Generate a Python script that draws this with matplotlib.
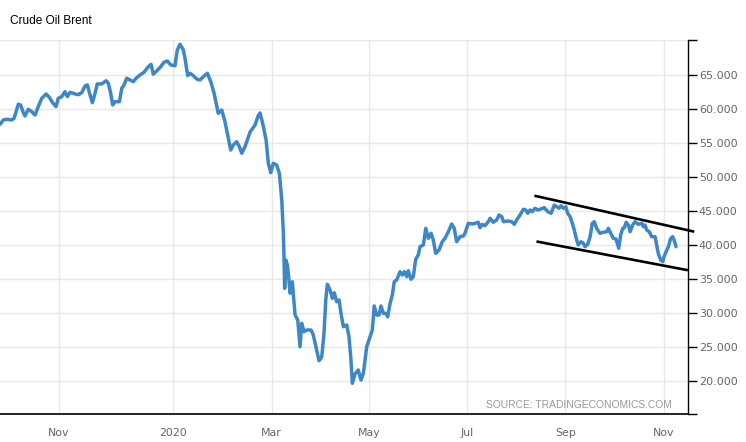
import matplotlib
matplotlib.use("Agg")
import matplotlib.pyplot as plt

title = "Crude Oil Brent"
source = "SOURCE: TRADINGECONOMICS.COM"

# days since start of the chart window, and Brent price (USD/bbl)
days = [0, 2.1, 4.2, 7.3, 8.8, 10.4, 11.4, 12.9, 14.6, 15.6, 17.7, 19.8, 21.9, 23.9,
        26.1, 28.8, 30.8, 32.9, 35.0, 36.4, 38.6, 40.6, 42.1, 43.8, 46.9, 48.9, 51.1,
        53.1, 54.6, 56.3, 57.7, 59.4, 60.8, 63.6, 66.3, 67.7, 69.2, 70.4, 71.9, 74.6,
        76.1, 77.5, 79.2, 81.3, 83.3, 85.4, 87.5, 90.0, 92.7, 94.4, 95.8, 97.9, 100.4,
        102.5, 104.6, 106.7, 109.4, 110.8, 112.5, 114.6, 115.6, 117.3, 118.8, 120.8,
        122.9, 125.0, 127.1, 129.6, 131.7, 133.8, 136.4, 138.6, 140.6, 142.7, 144.2,
        145.8, 147.9, 149.6, 151.1, 153.1, 156.3, 159.4, 161.3, 162.5, 164.4, 166.3,
        167.7, 169.2, 170.8, 172.9, 174.6, 176.1, 177.1, 177.5, 177.9, 178.6, 179.6,
        180.2, 181.3, 182.7, 183.3, 184.4, 186.1, 187.5, 188.6, 190.0, 191.7, 194.4,
        195.8, 197.9, 199.4, 201.1, 202.5, 203.6, 204.6, 206.3, 207.7, 208.9, 210.4,
        211.9, 213.1, 214.6, 216.7, 218.1, 219.2, 220.2, 221.9, 223.9, 225.6, 227.1,
        229.2, 231.3, 232.7, 233.9, 235.4, 236.9, 238.1, 239.6, 241.1, 242.3, 243.8,
        245.2, 246.4, 247.9, 250.0, 251.4, 252.7, 254.2, 255.2, 256.9, 258.3, 259.8,
        261.4, 262.5, 264.6, 266.1, 267.7, 269.4, 270.8, 272.3, 274.4, 276.4, 278.1,
        280.2, 282.3, 283.9, 285.4, 287.5, 289.6, 290.6, 292.7, 295.2, 296.9, 298.9,
        300.0, 301.4, 303.1, 305.2, 306.3, 308.3, 310.4, 311.9, 313.6, 314.6, 317.7,
        319.8, 321.4, 322.9, 325.0, 327.1, 328.6, 329.8, 331.3, 332.7, 334.4, 336.1,
        338.1, 340.2, 342.3, 344.4, 346.4, 347.9, 349.4, 350.6, 352.1, 353.6, 354.8,
        356.3, 357.7, 358.9, 360.4, 361.4, 363.1, 364.6, 365.6, 367.3, 368.8, 370.2,
        371.4, 372.9, 375.0, 377.1, 379.2, 380.2, 381.7, 383.3, 385.0, 385.8, 386.7,
        387.9, 389.2, 390.2, 391.3, 392.7, 393.8, 395.4, 396.9, 398.9, 401.1, 402.1,
        403.1, 404.2, 405.8, 407.3, 409.4, 410.4, 411.4, 412.9, 414.2, 415.0, 416.3,
        417.7, 419.2, 420.4, 421.3, 422.5]
prices = [57.74, 58.38, 58.48, 58.38, 58.63, 59.85, 60.69, 60.58, 59.45, 58.97, 59.95,
          59.60, 59.11, 60.34, 61.57, 62.21, 61.72, 60.92, 60.34, 61.57, 61.81, 62.54,
          61.81, 62.46, 62.21, 62.10, 62.40, 63.38, 63.53, 62.06, 60.92, 62.31, 63.68,
          63.68, 64.16, 63.78, 62.31, 60.59, 61.07, 61.07, 63.04, 63.53, 64.52, 64.27,
          64.02, 64.60, 65.00, 65.40, 66.22, 66.58, 65.11, 65.59, 66.22, 66.87, 67.06,
          66.47, 66.37, 68.68, 69.52, 68.68, 67.46, 64.90, 65.25, 64.90, 64.41, 64.27,
          64.75, 65.25, 64.02, 62.31, 59.36, 59.85, 58.13, 55.68, 53.96, 54.70, 55.18,
          54.45, 53.48, 54.45, 56.61, 57.64, 58.97, 59.41, 57.64, 55.43, 52.00, 50.62,
          52.00, 51.75, 50.53, 46.60, 41.70, 38.25, 33.60, 37.77, 37.03, 35.81, 32.87,
          34.57, 32.87, 29.67, 28.94, 25.01, 28.45, 27.21, 27.46, 27.46, 26.73, 24.52,
          22.94, 23.53, 26.98, 31.88, 34.19, 33.35, 32.13, 32.95, 31.63, 31.88, 29.92,
          27.95, 28.20, 26.48, 23.53, 19.62, 20.99, 21.58, 20.10, 21.09, 25.01, 26.48,
          27.46, 31.00, 29.67, 29.67, 31.00, 29.92, 29.92, 29.42, 31.39, 32.62, 34.57,
          34.82, 36.05, 35.56, 36.05, 35.31, 36.19, 34.93, 35.31, 37.87, 38.50, 39.73,
          39.98, 42.43, 40.96, 41.70, 40.71, 38.75, 39.24, 40.46, 40.96, 41.93, 43.07,
          42.43, 40.46, 41.20, 41.30, 41.70, 43.17, 43.07, 43.17, 43.32, 42.52, 43.02,
          42.82, 43.41, 43.91, 43.32, 43.66, 44.39, 44.14, 43.41, 43.51, 43.41, 43.02,
          43.66, 44.39, 45.23, 45.13, 44.64, 45.13, 44.88, 45.38, 45.13, 45.28, 45.47,
          44.88, 44.64, 45.86, 45.61, 45.38, 45.76, 45.38, 45.61, 44.64, 44.14, 43.17,
          42.18, 40.71, 39.98, 40.46, 40.23, 39.73, 40.08, 41.20, 43.17, 43.41, 42.43,
          41.70, 41.85, 41.93, 42.43, 41.70, 40.96, 40.86, 40.23, 39.49, 41.45, 42.43,
          42.52, 43.32, 42.92, 41.93, 42.92, 43.41, 43.02, 43.17, 42.67, 42.92, 42.18,
          41.93, 41.20, 41.20, 39.98, 38.75, 37.77, 37.52, 38.25, 38.99, 39.73, 40.96,
          41.20, 40.71, 39.73]

tick_days = [36.7, 108.3, 169.8, 230.8, 291.7, 353.3, 415.0]
tick_labels = ["Nov", "2020", "Mar", "May", "Jul", "Sep", "Nov"]
y_ticks = [20, 25, 30, 35, 40, 45, 50, 55, 60, 65]
y_range = [15.1, 70.15]
x_range = [0, 429.8]

upper_channel_days = [334.8, 433.1]
upper_channel_prices = [47.19, 41.98]
lower_channel_days = [336.1, 429.1]
lower_channel_prices = [40.46, 36.30]

fig = plt.figure(figsize=(7.46, 4.42), dpi=100)
ax = fig.add_axes([0.0, 1 - 414 / 442, 687.7 / 746, (414 - 40) / 442])

ax.plot(days, prices, color="#3e87c7", lw=2.5, solid_joinstyle="round",
        solid_capstyle="round", zorder=3)
ax.plot(upper_channel_days, upper_channel_prices, color="black", lw=1.9,
        zorder=4, clip_on=False)
ax.plot(lower_channel_days, lower_channel_prices, color="black", lw=1.9,
        zorder=4, clip_on=False)

ax.set_xlim(x_range)
ax.set_ylim(y_range)

ax.yaxis.tick_right()
ax.set_yticks(y_ticks)
ax.set_yticklabels([f"{v:.3f}" for v in y_ticks])
ax.set_yticks(y_range, minor=True)
ax.tick_params(axis="y", which="both", direction="out", length=6.5, width=1,
               color="black", pad=1.5, labelsize=8.0, labelcolor="#666666")
ax.set_xticks(tick_days)
ax.set_xticklabels(tick_labels)
ax.tick_params(axis="x", length=0, pad=10, labelsize=7.9, labelcolor="#666666")
for lab in ax.get_xticklabels() + ax.get_yticklabels():
    lab.set_family("DejaVu Sans")

ax.grid(True, which="major", color="#e8e8e8", lw=1)
ax.grid(True, which="minor", axis="y", color="#e8e8e8", lw=1)
ax.set_axisbelow(True)

for s in ["left", "top"]:
    ax.spines[s].set_visible(False)
ax.spines["right"].set_color("black")
ax.spines["bottom"].set_color("black")
ax.spines["right"].set_linewidth(1)
ax.spines["bottom"].set_linewidth(1.2)

ax.text(0.977, 0.024, source, transform=ax.transAxes, ha="right", va="center",
        fontsize=7.4, color="#999999", family="Liberation Sans")
fig.text(10 / 746, 1 - 21.5 / 442, title, ha="left", va="center", fontsize=8.6,
         color="black", family="Liberation Sans")

fig.savefig("out.png", dpi=100, facecolor="white")
